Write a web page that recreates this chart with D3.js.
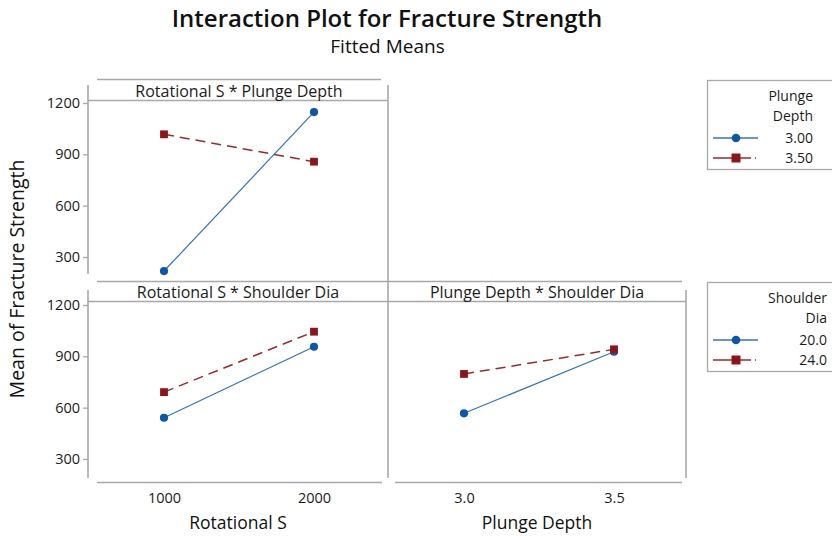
<!DOCTYPE html>
<html>
<head>
<meta charset="utf-8">
<script src="https://cdn.jsdelivr.net/npm/d3@7"></script>
<style>
  html, body { margin: 0; padding: 0; background: #fff; }
  svg { display: block; font-family: "Open Sans", "Noto Sans", sans-serif; }
</style>
</head>
<body>
<svg id="chart" width="832" height="536"></svg>
<script>
// ---- data ----
const rotationalLevels = [1000, 2000];
const plungeLevels = [3.0, 3.5];
const shoulderLevels = [20.0, 24.0];
const yTickValues = [300, 600, 900, 1200];

// Rotational S * Plunge Depth
const rotPlunge300 = [218, 1147];
const rotPlunge350 = [1017, 857];
// Rotational S * Shoulder Dia
const rotShoulder200 = [541, 956];
const rotShoulder240 = [691, 1044];
// Plunge Depth * Shoulder Dia
const plungeShoulder200 = [567, 927];
const plungeShoulder240 = [797, 941];

const plungeLegendLabels = ["3.00", "3.50"];
const shoulderLegendLabels = ["20.0", "24.0"];

// ---- styling ----
const blueLine = "#3474c0", blueMark = "#0b57a8";
const redLine = "#a0282b", redMark = "#8e1517";
const frameCol = "#a9a9a9";
const textCol = "#1c1c1c";

const svg = d3.select("#chart");

// titles
svg.append("text").attr("x", 387).attr("y", 27).attr("text-anchor", "middle")
  .attr("font-size", 24).attr("font-weight", 600).attr("fill", "#111")
  .text("Interaction Plot for Fracture Strength");
svg.append("text").attr("x", 387.5).attr("y", 53).attr("text-anchor", "middle")
  .attr("font-size", 19).attr("font-weight", 500).attr("fill", "#111")
  .text("Fitted Means");

// y axis title
svg.append("text").attr("transform", "translate(24,279) rotate(-90)")
  .attr("text-anchor", "middle").attr("font-size", 19.5).attr("fill", "#111")
  .text("Mean of Fracture Strength");

// scales
const yTop = d3.scaleLinear().domain([300, 1200]).range([257, 103]);
const yBot = d3.scaleLinear().domain([300, 1200]).range([459, 305]);
const xRot = d3.scaleLinear().domain([1000, 2000]).range([164, 314]);
const xPlg = d3.scaleLinear().domain([3.0, 3.5]).range([464, 614]);

function line(x1, y1, x2, y2, w) {
  svg.append("line").attr("x1", x1).attr("y1", y1).attr("x2", x2).attr("y2", y2)
    .attr("stroke", frameCol).attr("stroke-width", w || 1.6);
}

// ---- frames ----
line(97, 79.5, 381, 79.5);
line(88, 100.5, 388, 100.5, 1.3);
line(88, 85, 88, 274);
line(388, 85, 388, 478);
line(97, 281.5, 682, 281.5);
line(88, 301.5, 686, 301.5, 1.3);
line(88, 290, 88, 478);
line(686, 290, 686, 478);
line(97, 482.5, 382, 482.5);
line(395, 482.5, 682, 482.5);

// panel headers
function header(x, y, txt) {
  svg.append("text").attr("x", x).attr("y", y).attr("text-anchor", "middle")
    .attr("font-size", 16).attr("fill", textCol).text(txt);
}
header(239, 97, "Rotational S * Plunge Depth");
header(238, 298, "Rotational S * Shoulder Dia");
header(537, 298, "Plunge Depth * Shoulder Dia");

// ---- axes ----
function yAxis(scale) {
  const g = svg.append("g").attr("transform", "translate(88,0)")
    .call(d3.axisLeft(scale).tickValues(yTickValues).tickSize(5).tickPadding(3).tickFormat(d3.format("d")));
  g.select(".domain").remove();
  g.selectAll(".tick line").attr("stroke", frameCol).attr("stroke-width", 1.3);
  g.selectAll(".tick text").attr("font-size", 14.5).attr("fill", textCol)
    .attr("font-family", "'Open Sans', sans-serif");
}
yAxis(yTop);
yAxis(yBot);

function xAxis(scale, vals, fmt) {
  const g = svg.append("g").attr("transform", "translate(0,482.5)")
    .call(d3.axisBottom(scale).tickValues(vals).tickSize(0).tickPadding(10.5).tickFormat(fmt));
  g.select(".domain").remove();
  g.selectAll(".tick text").attr("font-size", 14.5).attr("fill", textCol)
    .attr("font-family", "'Open Sans', sans-serif");
}
xAxis(xRot, rotationalLevels, d3.format("d"));
xAxis(xPlg, plungeLevels, d3.format(".1f"));

svg.append("text").attr("x", 238).attr("y", 529).attr("text-anchor", "middle")
  .attr("font-size", 17.5).attr("fill", "#111").text("Rotational S");
svg.append("text").attr("x", 537).attr("y", 529).attr("text-anchor", "middle")
  .attr("font-size", 17.5).attr("fill", "#111").text("Plunge Depth");

// ---- series ----
function series(xs, ys, xScale, yScale, kind) {
  const pts = xs.map((x, i) => [xScale(x), yScale(ys[i])]);
  const isBlue = kind === "blue";
  svg.append("path").attr("d", d3.line()(pts)).attr("fill", "none")
    .attr("stroke", isBlue ? blueLine : redLine)
    .attr("stroke-width", isBlue ? 1.2 : 1.5)
    .attr("stroke-dasharray", isBlue ? null : "10,6");
  pts.forEach(p => {
    if (isBlue) {
      svg.append("circle").attr("cx", p[0]).attr("cy", p[1]).attr("r", 4.1).attr("fill", blueMark);
    } else {
      svg.append("rect").attr("x", p[0] - 3.9).attr("y", p[1] - 3.9)
        .attr("width", 7.8).attr("height", 7.8).attr("fill", redMark);
    }
  });
}
series(rotationalLevels, rotPlunge300, xRot, yTop, "blue");
series(rotationalLevels, rotPlunge350, xRot, yTop, "red");
series(rotationalLevels, rotShoulder200, xRot, yBot, "blue");
series(rotationalLevels, rotShoulder240, xRot, yBot, "red");
series(plungeLevels, plungeShoulder200, xPlg, yBot, "blue");
series(plungeLevels, plungeShoulder240, xPlg, yBot, "red");

// ---- legends ----
function legend(top, bottom, titleLines, labels, textRight) {
  svg.append("rect").attr("x", 707.5).attr("y", top + 0.5).attr("width", 140).attr("height", bottom - top)
    .attr("fill", "none").attr("stroke", frameCol).attr("stroke-width", 1.3);
  titleLines.forEach((t, i) => {
    svg.append("text").attr("x", textRight).attr("y", top + 21 + i * 20).attr("text-anchor", "end")
      .attr("font-size", 14).attr("fill", textCol).text(t);
  });
  labels.forEach((t, i) => {
    const cy = top + 58 + i * 20;
    svg.append("text").attr("x", textRight).attr("y", cy + 5).attr("text-anchor", "end")
      .attr("font-size", 14).attr("fill", textCol).text(t);
    if (i === 0) {
      svg.append("line").attr("x1", 713).attr("x2", 758).attr("y1", cy).attr("y2", cy)
        .attr("stroke", blueLine).attr("stroke-width", 1.4);
      svg.append("circle").attr("cx", 736).attr("cy", cy).attr("r", 4.3).attr("fill", blueMark);
    } else {
      svg.append("line").attr("x1", 713).attr("x2", 758).attr("y1", cy).attr("y2", cy)
        .attr("stroke", redLine).attr("stroke-width", 1.4).attr("stroke-dasharray", "38,4,1,4");
      svg.append("rect").attr("x", 731.5).attr("y", cy - 4.5).attr("width", 9).attr("height", 9).attr("fill", redMark);
    }
  });
}
legend(80, 169, ["Plunge", "Depth"], plungeLegendLabels, 813);
legend(282, 371, ["Shoulder", "Dia"], shoulderLegendLabels, 827);
</script>
</body>
</html>
